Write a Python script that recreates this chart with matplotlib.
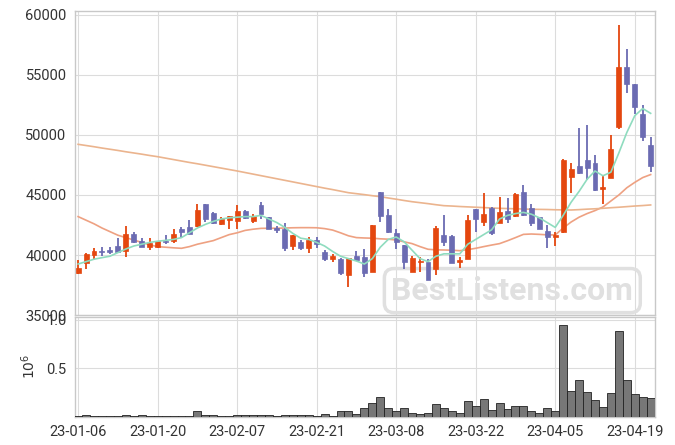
import matplotlib
matplotlib.use("Agg")
import matplotlib.pyplot as plt
import numpy as np

plt.rcParams['font.family'] = ['Roboto', 'DejaVu Sans']

# daily OHLC (trading days, 23-01-06 .. 23-04-21)
opens = [38530, 39360, 40000, 40360, 40420, 40750, 40360, 41780, 41170, 40690,
         40640, 41190, 41140, 42170, 42330, 42440, 44250, 43480, 42610, 42920,
         42860, 43670, 42860, 44140, 43140, 42280, 42170, 40780, 41080, 40610,
         41230, 40250, 39690, 39640, 38360, 39920, 39810, 38610, 45230, 43330,
         41860, 40830, 38560, 39420, 39420, 38830, 41670, 41580, 39390, 39690,
         43810, 42780, 43940, 42690, 43670, 43250, 45230, 43890, 43140, 42000,
         41480, 41940, 46530, 47420, 47890, 47640, 45480, 46390, 50690, 55640,
         54250, 51730, 49170]
highs = [39580, 40190, 40560, 40640, 40640, 41390, 42420, 41920, 41390, 41390,
         41200, 41640, 42140, 42310, 42920, 44250, 44250, 43580, 43140, 43250,
         44170, 43750, 43420, 44390, 43190, 42420, 42690, 41640, 41250, 41530,
         41480, 40390, 40060, 39780, 39780, 40310, 40480, 42500, 45280, 43810,
         42170, 40830, 39920, 39810, 39640, 42440, 43310, 41670, 39860, 43330,
         43860, 45140, 44030, 44810, 44730, 45140, 45830, 44250, 43190, 42500,
         41940, 47970, 47640, 50610, 50830, 48330, 46580, 50000, 59170, 57140,
         54250, 52500, 49860]
lows = [38390, 38810, 39640, 39940, 40110, 40140, 39810, 40980, 40640, 40420,
        40600, 40920, 41030, 41390, 41730, 42360, 42780, 42610, 42530, 42140,
        42140, 43000, 42640, 42980, 42140, 41860, 40360, 40440, 40440, 40170,
        40610, 39500, 39440, 38310, 37360, 39480, 38190, 38600, 42730, 41810,
        40480, 38810, 38560, 38580, 37920, 38330, 40750, 39310, 38890, 39690,
        41940, 42420, 41670, 42690, 42690, 43190, 43250, 42420, 42140, 40560,
        40750, 41860, 45140, 46750, 46250, 45360, 44250, 46390, 50480, 53530,
        51730, 49500, 46890]
closes = [38920, 40080, 40330, 40250, 40250, 40250, 41750, 41080, 40690, 41030,
          41140, 41080, 41780, 41920, 41780, 43750, 42980, 42640, 43000, 43250,
          43670, 43060, 43250, 43390, 42170, 42110, 40610, 41640, 40610, 41230,
          40890, 39690, 39920, 38530, 39730, 39580, 38530, 42480, 43280, 41940,
          41110, 39390, 39750, 39500, 37920, 42230, 41110, 39310, 39610, 42920,
          42980, 43420, 41860, 43580, 42980, 45080, 43330, 42690, 42190, 41480,
          41670, 47890, 47140, 46860, 47230, 45420, 45640, 48810, 55640, 54230,
          52310, 49810, 47440]
volumes = [5000, 18000, 5000, 5000, 5000, 5000, 18000, 5000, 18000, 5000,
           5000, 5000, 5000, 5000, 5000, 52000, 18000, 18000, 5000, 5000,
           18000, 18000, 18000, 18000, 18000, 5000, 15000, 15000, 15000, 15000,
           5000, 31000, 8000, 52000, 52000, 21000, 83000, 141000, 197000, 93000,
           62000, 83000, 41000, 28000, 38000, 131000, 83000, 52000, 41000, 165000,
           110000, 183000, 72000, 141000, 79000, 110000, 110000, 59000, 38000, 90000,
           52000, 948000, 266000, 380000, 255000, 172000, 100000, 245000, 886000, 380000,
           234000, 203000, 193000]

# moving averages as shown on the chart
ma_short = [39250, 39450, 39650, 39780, 39900, 40200, 40500, 40750, 40900, 41050,
            41150, 41220, 41300, 41450, 41850, 42250, 42550, 42800, 43000, 43100,
            43150, 43200, 43200, 43300, 43000, 42700, 42300, 41800, 41400, 41300,
            41050, 40750, 40300, 39900, 39700, 39500, 39250, 39700, 40650, 41300,
            41500, 41100, 40400, 39700, 39450, 39900, 40100, 40100, 40100, 40900,
            41300, 41700, 42100, 43000, 43300, 43450, 43550, 43400, 43100, 42700,
            42300, 43300, 44400, 45300, 46300, 47000, 46600, 46900, 48500, 50200,
            51600, 52200, 51800]
ma_mid = [43200, 42900, 42600, 42250, 41950, 41650, 41450, 41250, 41050, 40850,
          40700, 40650, 40600, 40560, 40700, 40900, 41050, 41200, 41450, 41700,
          41850, 42050, 42150, 42220, 42230, 42230, 42250, 42270, 42280, 42280,
          42270, 42200, 42080, 41850, 41600, 41450, 41420, 41400, 41350, 41320,
          41250, 41100, 40950, 40700, 40480, 40430, 40420, 40400, 40360, 40450,
          40560, 40700, 40830, 40950, 41190, 41450, 41720, 41750, 41720, 41680,
          41670, 42250, 42750, 43150, 43450, 43700, 44000, 44500, 45000, 45600,
          46050, 46450, 46700]
ma_long = [49220, 49120, 49020, 48910, 48810, 48710, 48600, 48500, 48400, 48290,
           48190, 48070, 47950, 47830, 47710, 47600, 47480, 47360, 47240, 47120,
           47000, 46870, 46740, 46610, 46480, 46350, 46220, 46090, 45960, 45830,
           45700, 45570, 45450, 45320, 45190, 45110, 45030, 44940, 44860, 44750,
           44650, 44540, 44440, 44360, 44280, 44190, 44110, 44080, 44040, 44010,
           43980, 43950, 43920, 43890, 43870, 43850, 43830, 43810, 43800, 43790,
           43770, 43760, 43750, 43780, 43820, 43850, 43890, 43940, 43980, 44030,
           44080, 44120, 44170]

tick_pos = [0, 10, 20, 30, 40, 50, 60, 70]
tick_labels = ['23-01-06', '23-01-20', '23-02-07', '23-02-21',
               '23-03-08', '23-03-22', '23-04-05', '23-04-19']

up_color = '#e4470f'
down_color = '#6b6bb2'
grid_color = '#dcdcdc'
spine_color = '#c8c8c8'

o = np.array(opens)
c = np.array(closes)
x = np.arange(len(o))
colors = [up_color if cc >= oo else down_color for oo, cc in zip(o, c)]

fig = plt.figure(figsize=(6.75, 4.45), dpi=100)
ax = fig.add_axes([0.111, 0.292, 0.86, 0.684])
axv = fig.add_axes([0.111, 0.064, 0.86, 0.224], sharex=ax)

# watermark sits under the candles
ax.text(0.759, 0.347, 'BestListens.com', transform=fig.transFigure,
        fontsize=23, fontweight='bold', color='#e0e0e0',
        ha='center', va='center', zorder=1,
        bbox=dict(boxstyle='round,pad=0.22,rounding_size=0.3', facecolor='none',
                  edgecolor='#e0e0e0', linewidth=2.5))

# candles
ax.vlines(x, lows, highs, colors=colors, linewidth=1.3, zorder=3)
ax.bar(x, np.abs(c - o), bottom=np.minimum(o, c), width=0.62,
       color=colors, edgecolor=colors, linewidth=0.5, zorder=4)
ax.plot(x, ma_short, color='#8fdcbf', linewidth=1.2, zorder=5)
ax.plot(x, ma_mid, color='#eea182', linewidth=1.2, zorder=2)
ax.plot(x, ma_long, color='#ebb48e', linewidth=1.2, zorder=2)

ax.set_ylim(35000, 60350)
ax.set_yticks(range(35000, 60001, 5000))
ax.set_xlim(-0.4, 72.6)

# volume
axv.bar(x, np.array(volumes) / 1e6, width=1.0, color='#777777',
        edgecolor='#222222', linewidth=0.6, zorder=3)
axv.set_ylim(0, 1.03)
axv.set_yticks([0.5, 1.0])
axv.set_ylabel(r'$10^6$', fontsize=10, color='#333333', labelpad=6)
axv.set_xticks(tick_pos)
axv.set_xticklabels(tick_labels)

for a in (ax, axv):
    a.grid(True, color=grid_color, linewidth=0.8, zorder=0)
    a.set_axisbelow(True)
    a.tick_params(length=0, labelsize=10.5, labelcolor='#333333', pad=6)
    for s in a.spines.values():
        s.set_color(spine_color)
        s.set_linewidth(1.0)
plt.setp(ax.get_xticklabels(), visible=False)

fig.savefig('out.png', dpi=100)
